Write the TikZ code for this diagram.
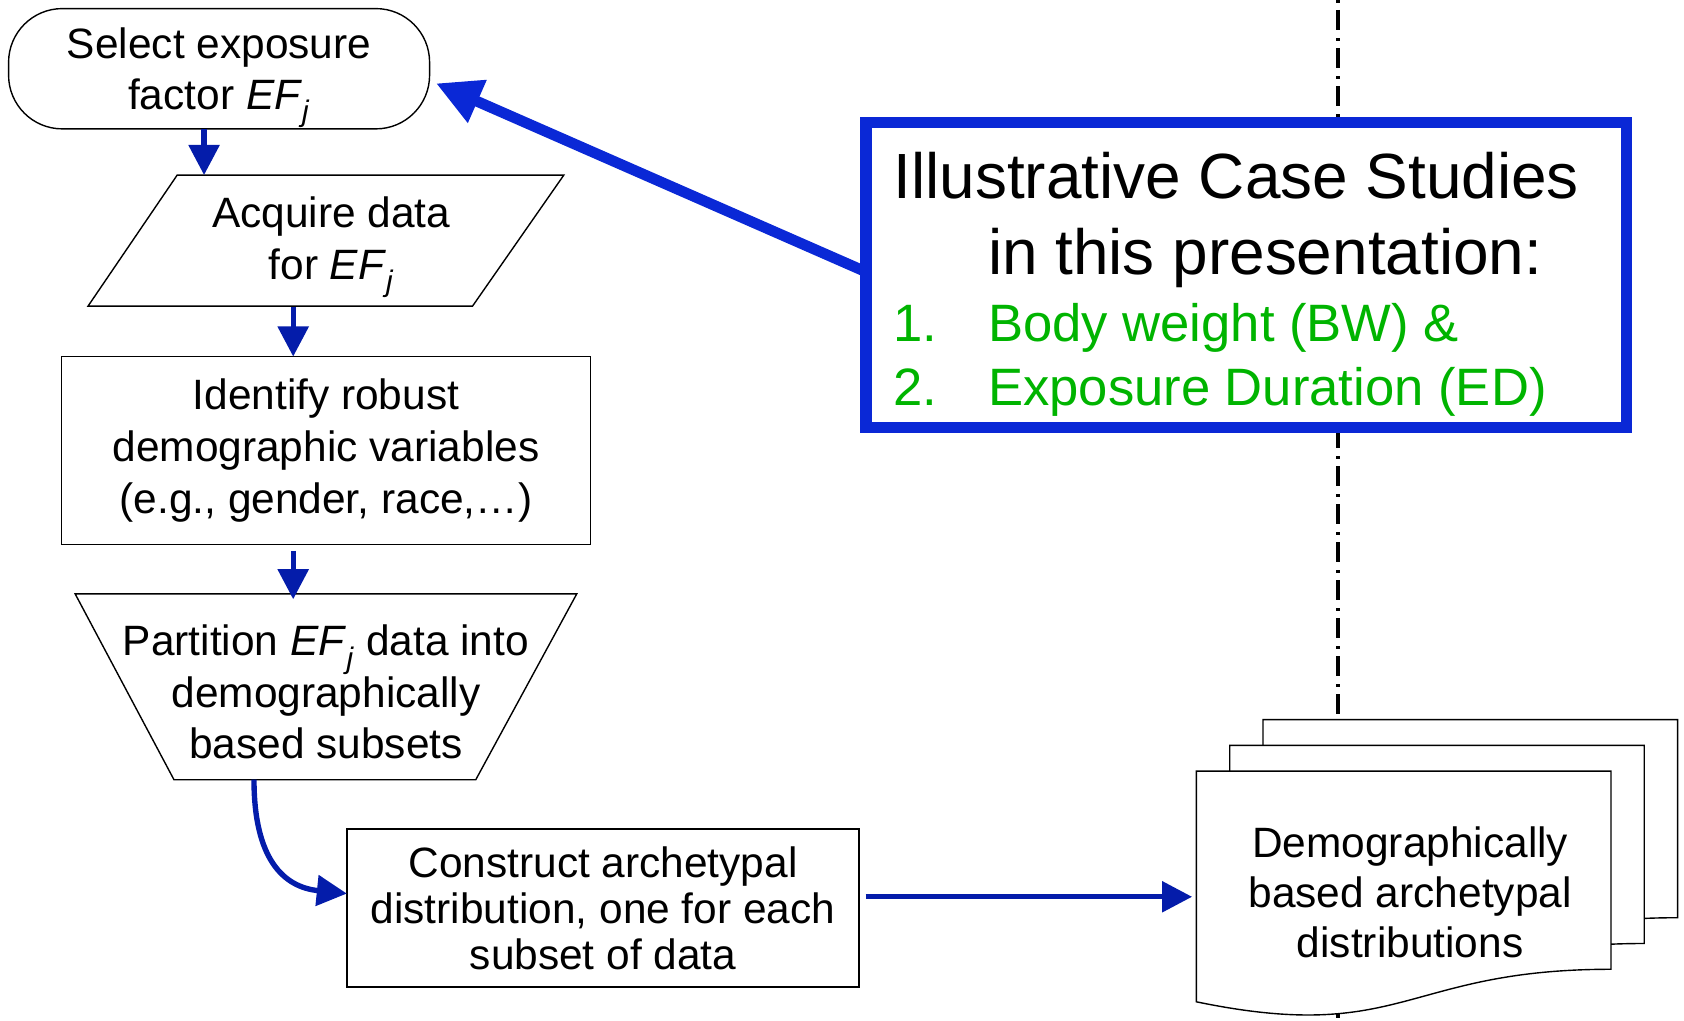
\documentclass[tikz,border=0pt]{standalone}
\usepackage{fontspec}
\setmainfont{Liberation Sans}
\usetikzlibrary{arrows.meta}
\definecolor{flowblue}{RGB}{4,28,170}
\definecolor{calloutblue}{RGB}{10,40,214}
\definecolor{casegreen}{RGB}{0,180,0}
\newcommand\EFj{\textit{EF}\smash{\textsubscript{\textit{j}}}}

\begin{document}
\begin{tikzpicture}[x=1pt,y=-1pt,
  every node/.style={inner sep=0pt,outer sep=0pt},
  shapeline/.style={draw=black,line width=1.3pt},
  flowtext/.style={font=\fontsize{39.5}{48}\selectfont,align=center},
  flowarrow/.style={draw=flowblue,line width=5pt,-{Triangle[length=28pt,width=28pt]}},
  bigarrow/.style={draw=calloutblue,line width=10pt,-{Triangle[length=42pt,width=41pt]}},
  axisline/.style={draw=black,line width=3.5pt,dash pattern=on 2.8pt off 6.5pt on 18.6pt off 7.5pt},
  sheet/.style={draw=black,line width=1.3pt,fill=white},
  titletext/.style={font=\fontsize{59.5}{72}\selectfont,anchor=base west},
  itemtext/.style={font=\fontsize{49}{60}\selectfont,text=casegreen,anchor=base west}]

\useasboundingbox (0,0) rectangle (1568,950);

% vertical dash-dot divider
\coordinate (axistop) at (1246,0);
\coordinate (axisbot) at (1246,950);
\draw[axisline] (axistop) -- (axisbot);

% flowchart steps
\node[flowtext,shapeline,rounded corners=50pt,minimum width=392pt,minimum height=112pt] (select) at (204,64) {Select exposure\\factor \EFj};

\node[flowtext,minimum width=453pt,minimum height=122pt] (acquire) at (308.5,222) {Acquire data\\for \EFj};
\draw[shapeline] ([xshift=83pt,yshift=-2pt]acquire.north west) -- ([xshift=-10pt,yshift=-2pt]acquire.north east) -- ([xshift=-95pt,yshift=-2pt]acquire.south east) -- ([yshift=-2pt]acquire.south west) -- cycle;

\node[flowtext,shapeline,minimum width=493pt,minimum height=175pt] (identify) at (303.5,419.5) {Identify robust\\demographic variables\\(e.g., gender, race,…)};

\node[flowtext,minimum width=467pt,minimum height=173pt] (partition) at (303.5,644.5) {Partition \EFj{} data into\\demographically\\based subsets};
\draw[shapeline] ([yshift=5pt]partition.north west) -- ([yshift=5pt]partition.north east) -- ([xshift=-94pt,yshift=5pt]partition.south east) -- ([xshift=92pt,yshift=5pt]partition.south west) -- cycle;

\node[flowtext,font=\fontsize{39.5}{43}\selectfont,shapeline,minimum width=477pt,minimum height=147pt] (construct) at (561.5,845.5) {Construct archetypal\\distribution, one for each\\subset of data};

% stack of document sheets
\node[minimum width=386pt,minimum height=230pt] (front) at (1307,833) {};
\foreach \dx/\dy in {62/48, 31/24, 0/0} {
  \draw[sheet,shift={([shift={(\dx,-\dy)}]front.north west)}]
    (0,0) -- (386,0) -- (386,184.5) .. controls (193,184.5) and (193,254.7) .. (0,214.8) -- cycle;
}
\node[flowtext,font=\fontsize{39.5}{46.5}\selectfont] (doctext) at (1313,831) {Demographically\\based archetypal\\distributions};

% callout box
\node[draw=calloutblue,line width=11pt,fill=white,minimum width=708.5pt,minimum height=284pt] (cases) at (1160.25,256) {};
\node[titletext] (casetitle) at (832,184.7) {Illustrative Case Studies};
\node[titletext] (casesub) at (920,256) {in this presentation:};
\node[itemtext] (num1) at (832,318) {1.};
\node[itemtext] (item1) at (920,318) {Body weight (BW) \&};
\node[itemtext] (num2) at (832,378) {2.};
\node[itemtext] (item2) at (920,378) {Exposure Duration (ED)};

% connectors
\draw[flowarrow] ([xshift=-14pt]select.south) coordinate (s1) -- ([yshift=-2pt]s1 |- acquire.north);
\draw[flowarrow] ([xshift=-35.5pt,yshift=-3pt]acquire.south) coordinate (s2) -- (s2 |- identify.north);
\draw[flowarrow] ([xshift=-30.5pt,yshift=-6pt]identify.south) coordinate (s3) -- (s3 |- partition.north);
\draw[flowarrow] ([xshift=-67pt,yshift=5pt]partition.south) .. controls +(0,74) and +(-59,-6) .. ([yshift=13.5pt]construct.west);
\draw[flowarrow,shorten >=4pt] ([xshift=6pt,yshift=10.5pt]construct.east) coordinate (s4) -- (s4 -| front.west);
\draw[bigarrow] ([yshift=3pt]cases.west) -- ([xshift=6pt,yshift=-13.6pt]select.east);
\end{tikzpicture}
\end{document}
